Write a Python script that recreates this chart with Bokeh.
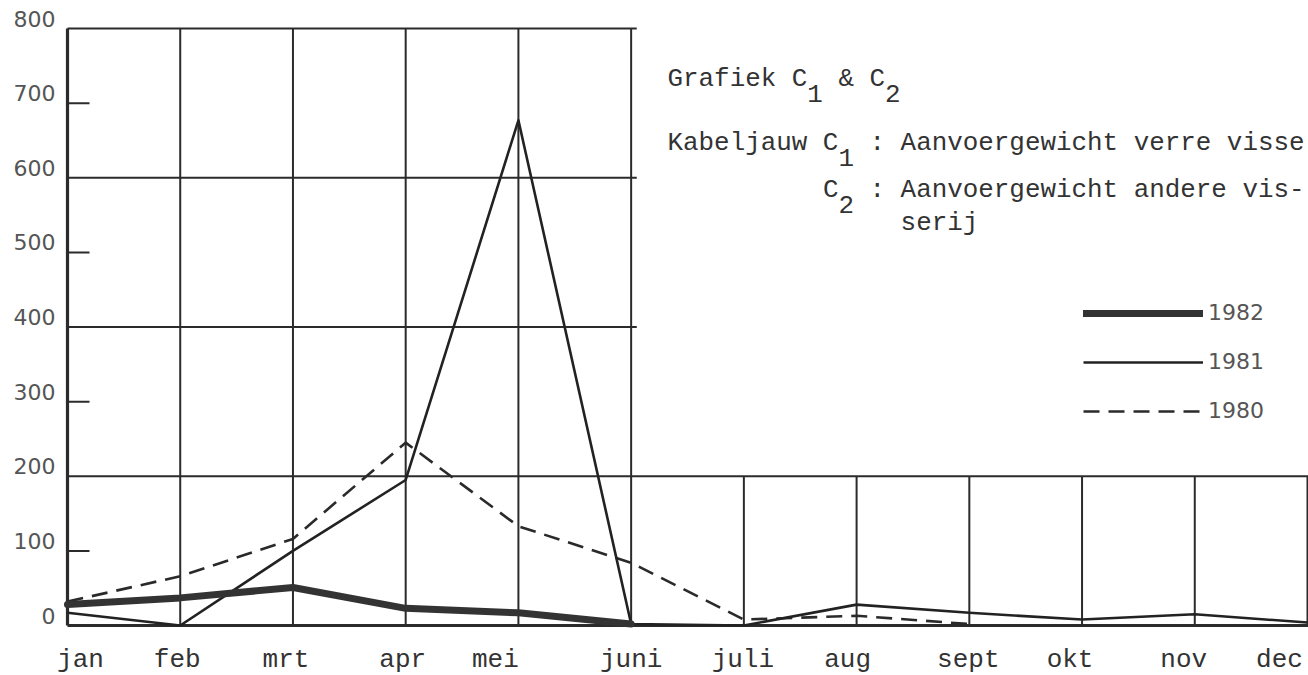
import math
from bokeh.plotting import figure
from bokeh.models import ColumnDataSource, Legend, LegendItem, Range1d
from bokeh.embed import file_html
from bokeh.resources import INLINE
from bokeh.core.properties import value

NaN = float("nan")

# ---------------- data ----------------
months = ["jan", "feb", "mrt", "apr", "mei", "juni", "juli", "aug", "sept", "okt", "nov", "dec"]
y_1982 = [28, 37, 51, 23, 17, 2, NaN, NaN, NaN, NaN, NaN, NaN]
y_1981 = [17, 0, 100, 195, 677, 2, 0, 28, 17, 8, 15, 4]
y_1980 = [32, 66, 116, 245, 133, 84, 8, 13, 2, NaN, NaN, NaN]
y_tick_values = [0, 100, 200, 300, 400, 500, 600, 700, 800]
series_names = ["1982", "1981", "1980"]

# ---------------- layout helpers (canvas px -> data) ----------------
PX_PER_MONTH = 1240 / 11.0
PX_PER_UNIT = 597 / 800.0
def dx(px):
    return (px - 67) / PX_PER_MONTH
def dy(py):
    return (625 - py) / PX_PER_UNIT

W, H = 1308, 675
p = figure(width=W, height=H, output_backend="svg", toolbar_location=None,
           x_axis_type=None, y_axis_type=None,
           x_range=Range1d(dx(0), dx(W)), y_range=Range1d(dy(H), dy(0)),
           min_border=0, min_border_left=0, min_border_right=0,
           min_border_top=0, min_border_bottom=0)
p.outline_line_color = None
p.grid.visible = False
p.background_fill_color = "white"
p.border_fill_color = "white"

ink = "#2b2b2b"
n = len(months)
xs = list(range(n))
left_half = [i for i in xs if i <= 5]
right_half = [i for i in xs if i > 5]

# vertical grid lines
p.segment(x0=left_half[1:], y0=[0] * (len(left_half) - 1), x1=left_half[1:], y1=[800] * (len(left_half) - 1),
          line_color=ink, line_width=2)
p.segment(x0=right_half, y0=[0] * len(right_half), x1=right_half, y1=[200] * len(right_half),
          line_color=ink, line_width=2)
# horizontal grid lines
upper = [v for v in y_tick_values if v >= 400 and v % 200 == 0]
p.segment(x0=[0] * len(upper), y0=upper, x1=[5.05] * len(upper), y1=upper, line_color=ink, line_width=2)
p.segment(x0=[0], y0=[200], x1=[n - 1 + 0.1], y1=[200], line_color=ink, line_width=2)
# axes
p.segment(x0=[0], y0=[0], x1=[0], y1=[800], line_color=ink, line_width=3.2)
p.segment(x0=[0], y0=[0], x1=[n - 1 + 0.1], y1=[0], line_color=ink, line_width=3)
# short ticks at odd hundreds
odd = [v for v in y_tick_values if v % 200 == 100]
p.segment(x0=[0] * len(odd), y0=odd, x1=[dx(89)] * len(odd), y1=odd, line_color=ink, line_width=2)

# y tick labels
p.text(x=[dx(55)] * len(y_tick_values), y=y_tick_values, text=[str(v) for v in y_tick_values],
       text_align="right", text_baseline="middle", y_offset=-10,
       text_font=value("DejaVu Sans"), text_font_size=value("22px"), text_color="#555555")

# month labels
label_dx = [13, -3, -7, -3, -23, 0, -1, -9, -1, -12, -11, -28]
msrc = ColumnDataSource(dict(x=xs, y=[dy(659)] * n, t=months, off=label_dx))
p.text(x="x", y="y", text="t", x_offset="off", source=msrc,
       text_align="center", text_baseline="alphabetic",
       text_font=value("Liberation Mono"), text_font_size=value("26px"), text_color="#333333")

# series
src = ColumnDataSource(dict(x=xs, a=y_1980, b=y_1981, c=y_1982))
r80 = p.line("x", "a", source=src, line_color="#2a2a2a", line_width=2.6, line_dash="16 9")
r81 = p.line("x", "b", source=src, line_color="#222222", line_width=2.6, line_join="round")
r82 = p.line("x", "c", source=src, line_color="#333333", line_width=7, line_join="round", line_cap="round")

legend = Legend(items=[LegendItem(label=series_names[0], renderers=[r82]),
                       LegendItem(label=series_names[1], renderers=[r81]),
                       LegendItem(label=series_names[2], renderers=[r80])],
                location=(1083, H - 423), glyph_width=120, glyph_height=20, label_height=20,
                spacing=24, padding=0, margin=0, label_standoff=5,
                border_line_color=None, background_fill_alpha=0,
                label_text_font="DejaVu Sans", label_text_font_size="22px", label_text_color="#555555")
p.add_layout(legend)

# annotation text (typewriter, monospaced with lowered subscripts)
X0, ADV = 667, 15.54
pieces = [
    ("Grafiek C", 0, 78), ("1", 9, 93), ("& C", 11, 78), ("2", 14, 93),
    ("Kabeljauw C", 0, 142), ("1", 11, 157), (": Aanvoergewicht verre visse", 13, 142),
    ("C", 10, 189), ("2", 11, 204), (": Aanvoergewicht andere vis-", 13, 189),
    ("serij", 15, 222),
]
p.text(x=[dx(X0 + i * ADV) for _, i, _ in pieces], y=[dy(b) for _, _, b in pieces],
       text=[t for t, _, _ in pieces], text_align="left", text_baseline="alphabetic",
       text_font=value("Liberation Mono"), text_font_size=value("25.9px"), text_color="#333333")

open("out.html", "w").write(file_html(p, INLINE))
